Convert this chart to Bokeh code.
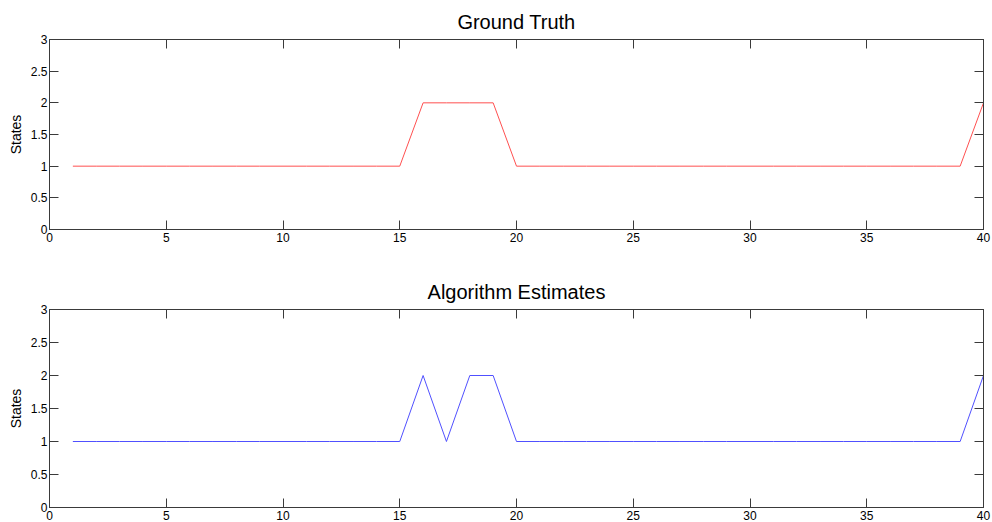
from bokeh.plotting import figure
from bokeh.layouts import column
from bokeh.models import LinearAxis, FixedTicker, Range1d
from bokeh.embed import file_html
from bokeh.resources import INLINE

# ---- data ----
t = [1, 2, 3, 4, 5, 6, 7, 8, 9, 10, 11, 12, 13, 14, 15, 16, 17, 18, 19, 20,
     21, 22, 23, 24, 25, 26, 27, 28, 29, 30, 31, 32, 33, 34, 35, 36, 37, 38, 39, 40]
ground_truth = [1, 1, 1, 1, 1, 1, 1, 1, 1, 1, 1, 1, 1, 1, 1, 2, 2, 2, 2, 1,
                1, 1, 1, 1, 1, 1, 1, 1, 1, 1, 1, 1, 1, 1, 1, 1, 1, 1, 1, 2]
estimates = [1, 1, 1, 1, 1, 1, 1, 1, 1, 1, 1, 1, 1, 1, 1, 2, 1, 2, 2, 1,
             1, 1, 1, 1, 1, 1, 1, 1, 1, 1, 1, 1, 1, 1, 1, 1, 1, 1, 1, 2]
x_ticks = [0, 5, 10, 15, 20, 25, 30, 35, 40]
x_tick_labels = ["0", "5", "10", "15", "20", "25", "30", "35", "40"]
y_ticks = [0, 0.5, 1, 1.5, 2, 2.5, 3]
y_tick_labels = ["0", "0.5", "1", "1.5", "2", "2.5", "3"]
titles = ["Ground Truth", "Algorithm Estimates"]
y_label = "States"

FONT = "Liberation Sans"
AX_COLOR = "#3a3a3a"


def style_axis(ax, ticks, labels, show_labels):
    ax.ticker = FixedTicker(ticks=ticks)
    if show_labels:
        ax.major_label_overrides = {tk: lb for tk, lb in zip(ticks, labels)}
    else:
        ax.major_label_overrides = {tk: "" for tk in ticks}
    ax.major_tick_in = 9
    ax.major_tick_out = 0
    ax.minor_tick_in = 0
    ax.minor_tick_out = 0
    ax.axis_line_color = AX_COLOR
    ax.major_tick_line_color = AX_COLOR
    ax.major_label_text_font = FONT
    ax.major_label_text_font_size = "12px"
    ax.major_label_text_color = "#000000"
    ax.major_label_standoff = 2
    ax.axis_label_text_font = FONT
    ax.axis_label_text_font_style = "normal"
    ax.axis_label_text_font_size = "14px"
    ax.axis_label_text_color = "#000000"


def make_fig(title, yvals, color, height, top, bottom):
    p = figure(width=992, height=height, output_backend="svg", toolbar_location=None,
               x_range=Range1d(0, 40), y_range=Range1d(0, 3),
               min_border_left=49, min_border_right=9,
               min_border_top=top, min_border_bottom=bottom,
               title=title)
    p.title.text_font = FONT
    p.title.text_font_size = "20px"
    p.title.text_font_style = "normal"
    p.title.text_color = "#000000"
    p.title.align = "center"
    p.title.standoff = 14
    p.grid.visible = False
    p.outline_line_color = AX_COLOR
    p.background_fill_color = "white"
    p.border_fill_color = "white"
    style_axis(p.xaxis[0], x_ticks, x_tick_labels, True)
    p.xaxis[0].major_label_standoff = 3
    style_axis(p.yaxis[0], y_ticks, y_tick_labels, True)
    p.yaxis[0].axis_label = y_label
    p.yaxis[0].axis_label_standoff = 4
    ax_top = LinearAxis()
    style_axis(ax_top, x_ticks, x_tick_labels, False)
    ax_top.major_label_standoff = 0
    p.add_layout(ax_top, "above")
    ax_right = LinearAxis()
    style_axis(ax_right, y_ticks, y_tick_labels, False)
    ax_right.major_label_standoff = 0
    p.add_layout(ax_right, "right")
    p.line(t, yvals, line_color=color, line_width=1)
    return p


p1 = make_fig(titles[0], ground_truth, "#ff5050", 270, 39, 41)
p2 = make_fig(titles[1], estimates, "#5050ff", 252, 39, 13)
layout = column(p1, p2, spacing=0)

open("out.html", "w").write(file_html(layout, INLINE))
